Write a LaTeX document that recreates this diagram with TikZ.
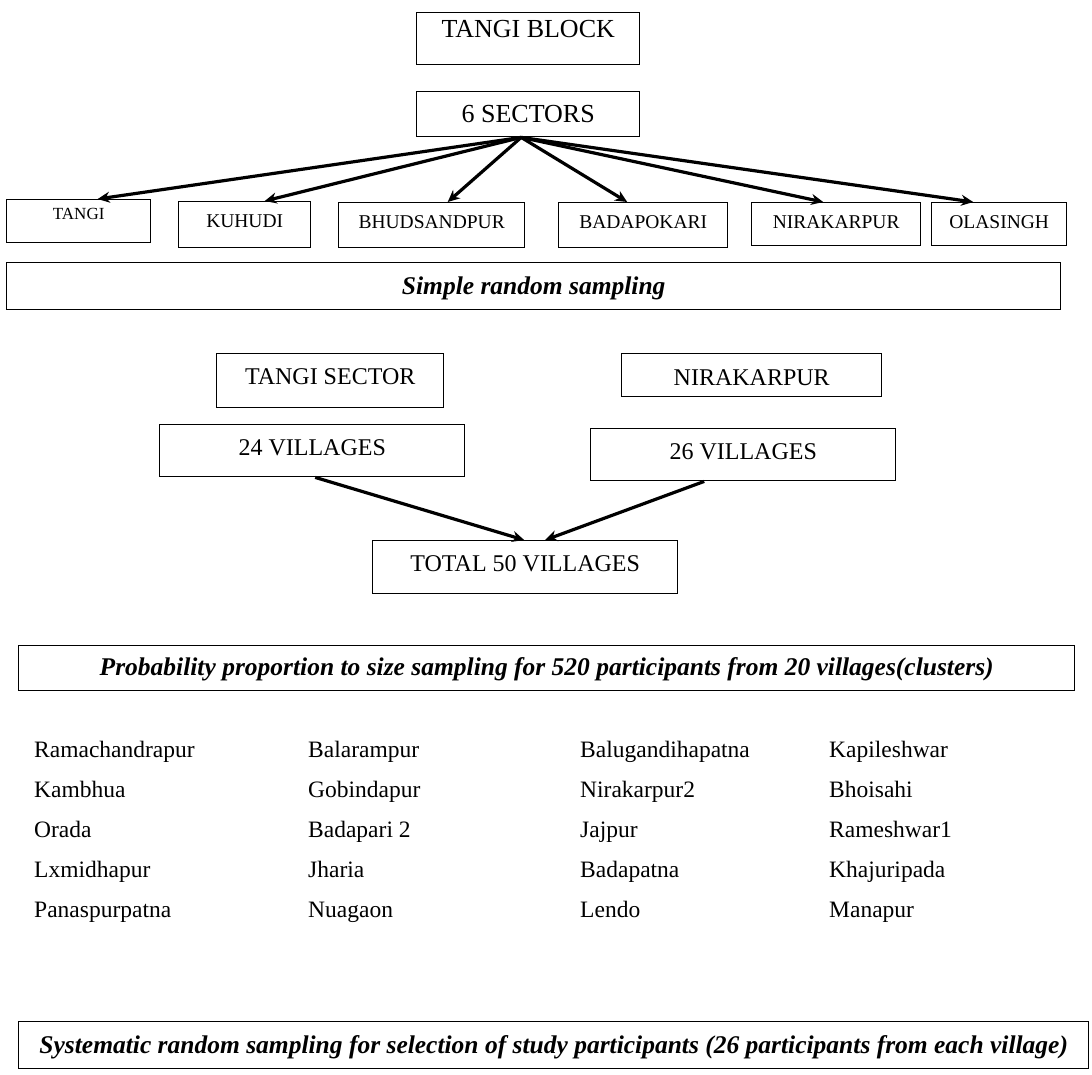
\documentclass[tikz,border=0pt]{standalone}
\usepackage{fontspec}
\setmainfont{Liberation Serif}
\usetikzlibrary{arrows.meta}
\begin{document}
\begin{tikzpicture}[>={Stealth[length=12pt,width=11pt]},x=1pt,y=-1pt,
  box/.style={draw,line width=1.4pt,inner sep=0pt,anchor=north west},
  bigtxt/.style={font=\fontsize{26}{30}\selectfont},
  midtxt/.style={font=\fontsize{24}{28}\selectfont},
  sectxt/.style={font=\fontsize{19.5}{23}\selectfont},
  samptxt/.style={font=\fontsize{25.5}{30}\selectfont\bfseries\itshape},
  vil/.style={anchor=base west,inner sep=0pt,font=\fontsize{23.5}{28}\selectfont},
  arr/.style={->,line width=3.2pt}]
\useasboundingbox (0,0) rectangle (1092,1074);
% block and sectors
\node[box,bigtxt,minimum width=223,text height=25,text depth=27] (block) at (416,12) {TANGI BLOCK};
\node[box,bigtxt,minimum width=223,text height=31,text depth=14] (sectors) at (416,91) {6 SECTORS};
\node[box,font=\fontsize{17}{20}\selectfont,minimum width=144,text height=20,text depth=23] (tangi) at (6,199) {TANGI};
\node[box,sectxt,minimum width=132,text height=26,text depth=20] (kuhudi) at (178,201) {KUHUDI};
\node[box,sectxt,minimum width=186,text height=26,text depth=19] (bhud) at (338,202) {BHUDSANDPUR};
\node[box,sectxt,minimum width=169,text height=26,text depth=19] (bada) at (558,202) {BADAPOKARI};
\node[box,sectxt,minimum width=169,text height=26,text depth=17] (nira) at (751,202) {NIRAKARPUR};
\node[box,sectxt,minimum width=135,text height=26,text depth=17] (olas) at (931,202) {OLASINGH};
\draw[arr] ([xshift=-7]sectors.south) -- ([xshift=19]tangi.north);
\draw[arr] ([xshift=-7]sectors.south) -- ([xshift=20]kuhudi.north);
\draw[arr] ([xshift=-7]sectors.south) -- ([xshift=16]bhud.north);
\draw[arr] ([xshift=-7]sectors.south) -- ([xshift=-16]bada.north);
\draw[arr] ([xshift=-7]sectors.south) -- ([xshift=-13]nira.north);
\draw[arr] ([xshift=-7]sectors.south) -- ([xshift=-26]olas.north);
\node[box,samptxt,minimum width=1054,text height=32,text depth=15] (srs) at (6,262) {Simple random sampling};
% selected sectors
\node[box,midtxt,minimum width=227,text height=31,text depth=23] (tsec) at (216,353) {TANGI SECTOR};
\node[box,midtxt,minimum width=260,text height=32,text depth=11] (nsec) at (621,353) {NIRAKARPUR};
\node[box,midtxt,minimum width=305,text height=31,text depth=21] (v24) at (159,424) {24 VILLAGES};
\node[box,midtxt,minimum width=305,text height=31,text depth=21] (v26) at (590,428) {26 VILLAGES};
\node[box,midtxt,minimum width=305,text height=31,text depth=22] (total) at (372,540) {TOTAL 50 VILLAGES};
\draw[arr] ([xshift=3]v24.south) -- ([xshift=-1]total.north);
\draw[arr] ([xshift=-39]v26.south) -- ([xshift=20]total.north);
\node[box,samptxt,minimum width=1056,text height=30,text depth=15] (pps) at (18,645) {Probability proportion to size sampling for 520 participants from 20 villages(clusters)};
% village list
\foreach \name [count=\i] in {Ramachandrapur,Kambhua,Orada,Lxmidhapur,Panaspurpatna}
  \node[vil] (a\i) at (34,{717+40*\i}) {\name};
\foreach \name [count=\i] in {Balarampur,Gobindapur,Badapari 2,Jharia,Nuagaon}
  \node[vil] (b\i) at (308,{717+40*\i}) {\name};
\foreach \name [count=\i] in {Balugandihapatna,Nirakarpur2,Jajpur,Badapatna,Lendo}
  \node[vil] (c\i) at (580,{717+40*\i}) {\name};
\foreach \name [count=\i] in {Kapileshwar,Bhoisahi,Rameshwar1,Khajuripada,Manapur}
  \node[vil] (d\i) at (829,{717+40*\i}) {\name};
\node[box,samptxt,minimum width=1070,text height=32,text depth=15] (sys) at (18,1021) {Systematic random sampling for selection of study participants (26 participants from each village)};
\end{tikzpicture}
\end{document}
